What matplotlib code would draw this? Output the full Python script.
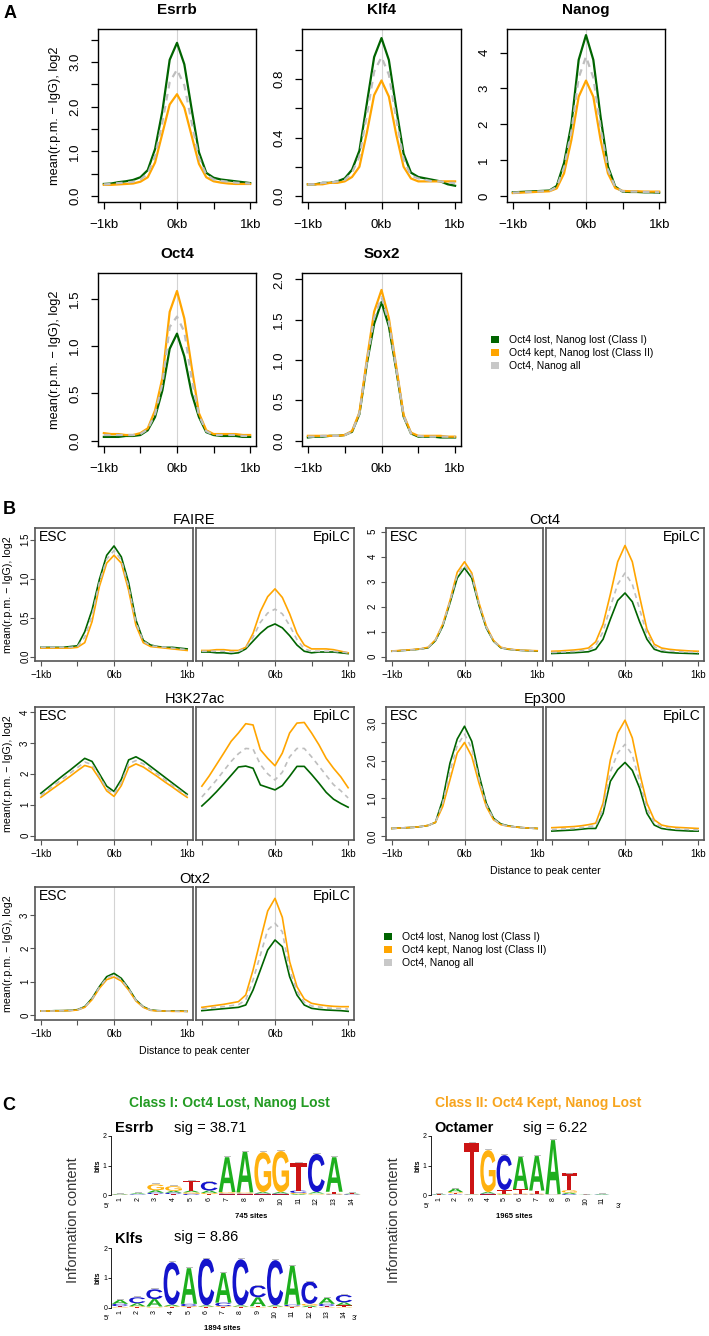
import matplotlib
matplotlib.use("Agg")
import matplotlib.pyplot as plt
import matplotlib.transforms as mtransforms
from matplotlib.patches import Patch, PathPatch
from matplotlib.textpath import TextPath
from matplotlib.font_manager import FontProperties

plt.rcParams["font.family"] = ["Liberation Sans", "DejaVu Sans"]

W, H = 709, 1336

# ---------------- data ----------------
POS_KB = [-1.0, -0.9, -0.8, -0.7, -0.6, -0.5, -0.4, -0.3, -0.2, -0.1, 0.0,
          0.1, 0.2, 0.3, 0.4, 0.5, 0.6, 0.7, 0.8, 0.9, 1.0]

# panel A (green = class I, orange = class II, gray = all)
ESRRB_GREEN = [0.27, 0.28, 0.31, 0.33, 0.36, 0.42, 0.58, 1.05, 1.90, 3.05, 3.43, 2.95, 1.95, 0.98, 0.52, 0.41, 0.37, 0.35, 0.33, 0.31, 0.29]
ESRRB_ORANGE = [0.25, 0.25, 0.26, 0.27, 0.28, 0.32, 0.42, 0.75, 1.40, 2.05, 2.28, 1.98, 1.35, 0.72, 0.42, 0.33, 0.30, 0.28, 0.27, 0.27, 0.27]
ESRRB_GRAY = [0.26, 0.27, 0.29, 0.30, 0.32, 0.37, 0.50, 0.90, 1.65, 2.55, 2.83, 2.48, 1.65, 0.85, 0.48, 0.37, 0.34, 0.32, 0.30, 0.29, 0.28]

KLF4_GREEN = [0.08, 0.08, 0.09, 0.09, 0.10, 0.12, 0.18, 0.31, 0.63, 0.95, 1.08, 0.93, 0.60, 0.29, 0.16, 0.13, 0.12, 0.11, 0.10, 0.08, 0.07]
KLF4_ORANGE = [0.08, 0.08, 0.08, 0.09, 0.09, 0.10, 0.13, 0.20, 0.43, 0.69, 0.79, 0.68, 0.42, 0.20, 0.12, 0.10, 0.10, 0.10, 0.10, 0.10, 0.10]
KLF4_GRAY = [0.08, 0.08, 0.09, 0.09, 0.10, 0.11, 0.16, 0.27, 0.55, 0.85, 0.95, 0.83, 0.53, 0.25, 0.14, 0.12, 0.11, 0.10, 0.10, 0.09, 0.09]

NANOG_GREEN = [0.10, 0.11, 0.12, 0.13, 0.14, 0.15, 0.28, 0.92, 2.00, 3.80, 4.49, 3.80, 2.20, 0.82, 0.26, 0.12, 0.11, 0.11, 0.10, 0.10, 0.09]
NANOG_ORANGE = [0.08, 0.09, 0.10, 0.11, 0.12, 0.13, 0.21, 0.63, 1.56, 2.77, 3.22, 2.77, 1.56, 0.63, 0.22, 0.14, 0.13, 0.13, 0.12, 0.12, 0.12]
NANOG_GRAY = [0.09, 0.10, 0.11, 0.12, 0.13, 0.14, 0.25, 0.80, 1.80, 3.30, 3.89, 3.30, 1.90, 0.74, 0.24, 0.13, 0.12, 0.12, 0.11, 0.11, 0.10]

OCT4A_GREEN = [0.04, 0.04, 0.04, 0.05, 0.05, 0.06, 0.11, 0.25, 0.53, 0.97, 1.13, 0.89, 0.50, 0.25, 0.09, 0.06, 0.05, 0.05, 0.05, 0.04, 0.04]
OCT4A_ORANGE = [0.08, 0.07, 0.07, 0.06, 0.06, 0.08, 0.13, 0.32, 0.66, 1.36, 1.58, 1.29, 0.78, 0.29, 0.11, 0.07, 0.07, 0.07, 0.07, 0.06, 0.06]
OCT4A_GRAY = [0.06, 0.06, 0.06, 0.06, 0.06, 0.07, 0.12, 0.28, 0.60, 1.20, 1.31, 1.15, 0.66, 0.27, 0.10, 0.06, 0.06, 0.06, 0.06, 0.05, 0.05]

SOX2_GREEN = [0.04, 0.05, 0.05, 0.06, 0.06, 0.07, 0.11, 0.33, 0.95, 1.45, 1.72, 1.42, 0.88, 0.30, 0.09, 0.05, 0.05, 0.05, 0.04, 0.04, 0.04]
SOX2_ORANGE = [0.06, 0.06, 0.06, 0.06, 0.06, 0.07, 0.12, 0.35, 1.00, 1.60, 1.87, 1.52, 0.92, 0.32, 0.10, 0.06, 0.06, 0.06, 0.06, 0.05, 0.05]
SOX2_GRAY = [0.05, 0.05, 0.06, 0.06, 0.06, 0.07, 0.11, 0.34, 0.97, 1.52, 1.78, 1.47, 0.90, 0.31, 0.09, 0.06, 0.05, 0.05, 0.05, 0.05, 0.05]

# panel B, ESC and EpiLC
FAIRE_ESC_GREEN = [0.12, 0.12, 0.12, 0.12, 0.13, 0.14, 0.32, 0.60, 0.99, 1.30, 1.42, 1.28, 0.95, 0.47, 0.21, 0.15, 0.13, 0.12, 0.12, 0.11, 0.10]
FAIRE_ESC_ORANGE = [0.11, 0.11, 0.11, 0.11, 0.11, 0.12, 0.18, 0.45, 0.90, 1.20, 1.30, 1.20, 0.85, 0.40, 0.18, 0.13, 0.12, 0.11, 0.10, 0.09, 0.08]
FAIRE_ESC_GRAY = [0.12, 0.12, 0.12, 0.12, 0.12, 0.13, 0.25, 0.53, 0.95, 1.25, 1.36, 1.24, 0.90, 0.44, 0.20, 0.14, 0.13, 0.12, 0.11, 0.10, 0.09]
FAIRE_EPI_GREEN = [0.06, 0.06, 0.05, 0.05, 0.04, 0.05, 0.10, 0.20, 0.30, 0.38, 0.42, 0.37, 0.27, 0.15, 0.07, 0.05, 0.06, 0.06, 0.06, 0.05, 0.04]
FAIRE_EPI_ORANGE = [0.08, 0.08, 0.09, 0.09, 0.08, 0.08, 0.12, 0.30, 0.58, 0.77, 0.87, 0.76, 0.55, 0.30, 0.15, 0.10, 0.10, 0.10, 0.09, 0.07, 0.05]
FAIRE_EPI_GRAY = [0.07, 0.07, 0.07, 0.07, 0.06, 0.07, 0.11, 0.25, 0.44, 0.56, 0.61, 0.55, 0.40, 0.22, 0.10, 0.07, 0.07, 0.07, 0.07, 0.06, 0.05]

OCT4B_ESC_GREEN = [0.22, 0.24, 0.26, 0.28, 0.31, 0.36, 0.64, 1.22, 2.15, 3.15, 3.55, 3.15, 2.05, 1.15, 0.62, 0.36, 0.30, 0.27, 0.25, 0.24, 0.23]
OCT4B_ESC_ORANGE = [0.23, 0.25, 0.27, 0.29, 0.32, 0.38, 0.68, 1.30, 2.25, 3.38, 3.80, 3.35, 2.15, 1.22, 0.65, 0.38, 0.31, 0.28, 0.26, 0.25, 0.24]
OCT4B_ESC_GRAY = [0.22, 0.24, 0.26, 0.28, 0.31, 0.37, 0.66, 1.26, 2.20, 3.27, 3.65, 3.25, 2.10, 1.18, 0.63, 0.37, 0.30, 0.27, 0.25, 0.24, 0.23]
OCT4B_EPI_GREEN = [0.13, 0.14, 0.15, 0.16, 0.18, 0.20, 0.30, 0.70, 1.50, 2.25, 2.55, 2.20, 1.40, 0.70, 0.30, 0.20, 0.17, 0.15, 0.14, 0.13, 0.12]
OCT4B_EPI_ORANGE = [0.22, 0.23, 0.25, 0.27, 0.30, 0.35, 0.60, 1.30, 2.50, 3.80, 4.45, 3.80, 2.40, 1.10, 0.50, 0.35, 0.30, 0.27, 0.25, 0.23, 0.22]
OCT4B_EPI_GRAY = [0.17, 0.18, 0.20, 0.21, 0.24, 0.28, 0.45, 1.00, 2.00, 2.90, 3.35, 2.90, 1.90, 0.90, 0.40, 0.27, 0.23, 0.21, 0.19, 0.18, 0.17]

H3_ESC_GREEN = [1.37, 1.56, 1.75, 1.94, 2.12, 2.31, 2.50, 2.40, 2.00, 1.60, 1.43, 1.82, 2.45, 2.55, 2.42, 2.24, 2.06, 1.88, 1.70, 1.52, 1.34]
H3_ESC_ORANGE = [1.24, 1.41, 1.58, 1.75, 1.92, 2.10, 2.27, 2.20, 1.85, 1.45, 1.27, 1.62, 2.20, 2.32, 2.22, 2.06, 1.90, 1.73, 1.57, 1.40, 1.24]
H3_ESC_GRAY = [1.30, 1.48, 1.66, 1.84, 2.02, 2.20, 2.38, 2.30, 1.92, 1.52, 1.35, 1.72, 2.32, 2.43, 2.32, 2.15, 1.98, 1.80, 1.63, 1.46, 1.29]
H3_EPI_GREEN = [0.96, 1.18, 1.42, 1.68, 1.95, 2.22, 2.25, 2.18, 1.64, 1.56, 1.48, 1.62, 1.92, 2.24, 2.24, 1.98, 1.70, 1.40, 1.18, 1.04, 0.92]
H3_EPI_ORANGE = [1.60, 1.93, 2.30, 2.67, 3.05, 3.32, 3.62, 3.58, 2.78, 2.50, 2.26, 2.67, 3.32, 3.64, 3.66, 3.32, 2.94, 2.50, 2.18, 1.90, 1.55]
H3_EPI_GRAY = [1.25, 1.52, 1.80, 2.10, 2.40, 2.65, 2.82, 2.80, 2.30, 2.00, 1.80, 2.05, 2.55, 2.82, 2.82, 2.55, 2.25, 1.95, 1.65, 1.45, 1.22]

EP300_ESC_GREEN = [0.20, 0.21, 0.22, 0.23, 0.25, 0.28, 0.36, 0.96, 1.93, 2.57, 2.91, 2.51, 1.62, 0.87, 0.47, 0.32, 0.27, 0.24, 0.22, 0.21, 0.20]
EP300_ESC_ORANGE = [0.20, 0.21, 0.22, 0.23, 0.25, 0.28, 0.36, 0.78, 1.49, 2.20, 2.48, 2.11, 1.40, 0.78, 0.43, 0.30, 0.26, 0.24, 0.22, 0.21, 0.20]
EP300_ESC_GRAY = [0.20, 0.21, 0.22, 0.23, 0.25, 0.28, 0.36, 0.87, 1.70, 2.40, 2.70, 2.32, 1.52, 0.83, 0.45, 0.31, 0.26, 0.24, 0.22, 0.21, 0.20]
EP300_EPI_GREEN = [0.13, 0.14, 0.15, 0.16, 0.18, 0.20, 0.20, 0.60, 1.45, 1.76, 1.95, 1.74, 1.27, 0.60, 0.29, 0.20, 0.17, 0.15, 0.14, 0.13, 0.13]
EP300_EPI_ORANGE = [0.22, 0.23, 0.24, 0.25, 0.27, 0.30, 0.34, 0.87, 2.02, 2.73, 3.07, 2.60, 1.67, 0.87, 0.43, 0.29, 0.25, 0.23, 0.22, 0.21, 0.20]
EP300_EPI_GRAY = [0.17, 0.18, 0.19, 0.20, 0.22, 0.25, 0.27, 0.72, 1.70, 2.20, 2.43, 2.15, 1.45, 0.72, 0.35, 0.24, 0.21, 0.19, 0.18, 0.17, 0.16]

OTX2_ESC_GREEN = [0.12, 0.12, 0.13, 0.13, 0.14, 0.16, 0.25, 0.50, 0.85, 1.15, 1.25, 1.10, 0.80, 0.45, 0.25, 0.15, 0.13, 0.12, 0.12, 0.12, 0.11]
OTX2_ESC_ORANGE = [0.12, 0.12, 0.12, 0.13, 0.13, 0.15, 0.23, 0.46, 0.80, 1.06, 1.14, 1.02, 0.75, 0.42, 0.23, 0.14, 0.12, 0.12, 0.11, 0.11, 0.11]
OTX2_ESC_GRAY = [0.12, 0.12, 0.12, 0.13, 0.14, 0.15, 0.24, 0.48, 0.83, 1.11, 1.20, 1.06, 0.78, 0.44, 0.24, 0.15, 0.13, 0.12, 0.12, 0.11, 0.11]
OTX2_EPI_GREEN = [0.13, 0.15, 0.17, 0.19, 0.21, 0.23, 0.30, 0.75, 1.35, 1.95, 2.25, 2.05, 1.15, 0.60, 0.30, 0.20, 0.17, 0.15, 0.14, 0.13, 0.11]
OTX2_EPI_ORANGE = [0.23, 0.26, 0.29, 0.32, 0.36, 0.40, 0.60, 1.35, 2.25, 3.12, 3.50, 2.93, 1.60, 0.85, 0.48, 0.35, 0.31, 0.28, 0.26, 0.25, 0.25]
OTX2_EPI_GRAY = [0.18, 0.20, 0.23, 0.25, 0.28, 0.31, 0.45, 1.05, 1.80, 2.55, 2.75, 2.50, 1.35, 0.72, 0.38, 0.27, 0.24, 0.21, 0.20, 0.19, 0.18]

LEGEND_LABELS = ["Oct4 lost, Nanog lost (Class I)", "Oct4 kept, Nanog lost (Class II)", "Oct4, Nanog all"]

# panel C motif logos: per position, (letter, bits) from bottom to top
ESRRB_LOGO = [
    [("C", 0.01), ("G", 0.01), ("A", 0.02)],
    [("T", 0.01), ("C", 0.02), ("A", 0.03)],
    [("T", 0.03), ("C", 0.05), ("A", 0.08), ("G", 0.20)],
    [("T", 0.03), ("C", 0.05), ("A", 0.06), ("G", 0.16)],
    [("C", 0.04), ("G", 0.05), ("A", 0.06), ("T", 0.34)],
    [("T", 0.03), ("G", 0.04), ("A", 0.08), ("C", 0.30)],
    [("T", 0.02), ("C", 0.03), ("G", 0.05), ("A", 1.18)],
    [("T", 0.02), ("C", 0.03), ("G", 0.04), ("A", 1.38)],
    [("T", 0.02), ("C", 0.03), ("A", 0.05), ("G", 1.35)],
    [("T", 0.02), ("C", 0.03), ("A", 0.05), ("G", 1.39)],
    [("A", 0.03), ("G", 0.04), ("C", 0.08), ("T", 0.95)],
    [("G", 0.02), ("T", 0.03), ("A", 0.05), ("C", 1.29)],
    [("C", 0.02), ("G", 0.03), ("T", 0.06), ("A", 1.17)],
    [("G", 0.01), ("C", 0.02), ("A", 0.02), ("T", 0.02)],
]
KLFS_LOGO = [
    [("G", 0.02), ("T", 0.03), ("C", 0.08), ("A", 0.13)],
    [("T", 0.02), ("G", 0.03), ("A", 0.10), ("C", 0.20)],
    [("G", 0.02), ("T", 0.02), ("A", 0.25), ("C", 0.33)],
    [("T", 0.02), ("G", 0.03), ("A", 0.05), ("C", 1.43)],
    [("T", 0.02), ("G", 0.03), ("C", 0.08), ("A", 1.20)],
    [("T", 0.02), ("G", 0.02), ("A", 0.04), ("C", 1.58)],
    [("T", 0.02), ("G", 0.03), ("C", 0.12), ("A", 1.01)],
    [("T", 0.02), ("G", 0.02), ("A", 0.04), ("C", 1.55)],
    [("G", 0.02), ("T", 0.03), ("A", 0.30), ("C", 0.40)],
    [("T", 0.02), ("G", 0.02), ("A", 0.04), ("C", 1.52)],
    [("T", 0.02), ("G", 0.03), ("C", 0.05), ("A", 1.32)],
    [("T", 0.02), ("A", 0.05), ("G", 0.06), ("C", 0.75)],
    [("G", 0.02), ("T", 0.03), ("C", 0.08), ("A", 0.20)],
    [("G", 0.02), ("T", 0.06), ("A", 0.10), ("C", 0.25)],
]
OCTAMER_LOGO = [
    [("C", 0.01), ("T", 0.01), ("A", 0.02)],
    [("C", 0.02), ("T", 0.04), ("G", 0.04), ("A", 0.12)],
    [("A", 0.01), ("C", 0.01), ("G", 0.01), ("T", 1.72)],
    [("T", 0.02), ("C", 0.03), ("A", 0.05), ("G", 1.42)],
    [("A", 0.02), ("G", 0.03), ("T", 0.12), ("C", 1.18)],
    [("C", 0.02), ("G", 0.03), ("T", 0.15), ("A", 1.10)],
    [("C", 0.02), ("G", 0.03), ("T", 0.10), ("A", 1.17)],
    [("C", 0.01), ("G", 0.01), ("T", 0.01), ("A", 1.83)],
    [("C", 0.03), ("A", 0.05), ("G", 0.08), ("T", 0.57)],
    [("A", 0.01), ("T", 0.01)],
    [("C", 0.01), ("A", 0.02), ("T", 0.02)],
]

# ---------------- styles ----------------
GREEN = "#006400"
ORANGE = "#FFA500"
GRAY = "#BEBEBE"
LEG_GRAY = "#C8C8C8"
VLINE = "#D3D3D3"
B_FRAME = "#555555"
LETTER_COLORS = {"A": "#1DAF1D", "C": "#1414CC", "G": "#FFB10F", "T": "#CC1414"}
YLABEL = "mean(r.p.m. \u2212 IgG), log2"

fig = plt.figure(figsize=(W / 100, H / 100), dpi=100)


def rect(x0, y0, x1, y1):
    return [x0 / W, 1 - y1 / H, (x1 - x0) / W, (y1 - y0) / H]


def ftext(x, y, s, **kw):
    kw.setdefault("ha", "center")
    kw.setdefault("va", "center")
    fig.text(x / W, 1 - y / H, s, **kw)


def draw_profiles(ax, green, orange, gray, lw):
    ax.axvline(0, color=VLINE, lw=0.8, zorder=0)
    ax.plot(POS_KB, green, color=GREEN, lw=lw)
    ax.plot(POS_KB, orange, color=ORANGE, lw=lw)
    ax.plot(POS_KB, gray, color=GRAY, lw=lw, ls=(0, (3, 2.5)))
    ax.set_xlim(-1.08, 1.08)


def rotate_yticklabels(ax):
    for lab in ax.get_yticklabels():
        lab.set_rotation(90)
        lab.set_va("center")


# ---------------- panel A ----------------
panel_a = [
    ("Esrrb", ESRRB_GREEN, ESRRB_ORANGE, ESRRB_GRAY, (98, 29, 256, 202), (-0.134, 3.74),
     [0, 0.5, 1, 1.5, 2, 2.5, 3, 3.5], ["0.0", "", "1.0", "", "2.0", "", "3.0", ""]),
    ("Klf4", KLF4_GREEN, KLF4_ORANGE, KLF4_GRAY, (302, 29, 461, 202), (-0.041, 1.142),
     [0, 0.2, 0.4, 0.6, 0.8, 1.0], ["0.0", "", "0.4", "", "0.8", ""]),
    ("Nanog", NANOG_GREEN, NANOG_ORANGE, NANOG_GRAY, (507, 29, 665, 202), (-0.17, 4.66),
     [0, 1, 2, 3, 4], ["0", "1", "2", "3", "4"]),
    ("Oct4", OCT4A_GREEN, OCT4A_ORANGE, OCT4A_GRAY, (98, 273, 256, 446), (-0.056, 1.77),
     [0, 0.5, 1, 1.5], ["0.0", "0.5", "1.0", "1.5"]),
    ("Sox2", SOX2_GREEN, SOX2_ORANGE, SOX2_GRAY, (302, 273, 461, 446), (-0.066, 2.08),
     [0, 0.5, 1, 1.5, 2], ["0.0", "0.5", "1.0", "1.5", "2.0"]),
]

for name, g, o, gr, box, ylim, yt, ytl in panel_a:
    ax = fig.add_axes(rect(*box))
    draw_profiles(ax, g, o, gr, lw=1.6)
    ax.set_ylim(*ylim)
    ax.set_xticks([-1, -0.5, 0, 0.5, 1], ["\u22121kb", "", "0kb", "", "1kb"])
    ax.set_yticks(yt, ytl)
    ax.tick_params(length=5, width=0.9, labelsize=9.5, pad=7)
    rotate_yticklabels(ax)
    for sp in ax.spines.values():
        sp.set_linewidth(1.0)
    ftext((box[0] + box[2]) / 2, box[1] - 19, name, fontsize=11, fontweight="bold")

ftext(55, 115.5, YLABEL, rotation=90, fontsize=9.2)
ftext(55, 359.5, YLABEL, rotation=90, fontsize=9.2)
ftext(10, 13, "A", fontsize=13, fontweight="bold")

handles = [Patch(facecolor=c, edgecolor="none") for c in (GREEN, ORANGE, LEG_GRAY)]
for lx, ly in ((491, 335), (384, 932)):
    fig.legend(handles, LEGEND_LABELS, loc="upper left", bbox_to_anchor=(lx / W, 1 - ly / H),
               frameon=False, fontsize=7.5, handlelength=0.75, handleheight=0.75,
               handletextpad=1.0, labelspacing=0.3, borderpad=0, borderaxespad=0)

# ---------------- panel B ----------------
panel_b = [
    ("FAIRE", (FAIRE_ESC_GREEN, FAIRE_ESC_ORANGE, FAIRE_ESC_GRAY),
     (FAIRE_EPI_GREEN, FAIRE_EPI_ORANGE, FAIRE_EPI_GRAY), "left", (528, 661), (-0.055, 1.65),
     [0, 0.5, 1, 1.5], ["0.0", "0.5", "1.0", "1.5"], False),
    ("Oct4", (OCT4B_ESC_GREEN, OCT4B_ESC_ORANGE, OCT4B_ESC_GRAY),
     (OCT4B_EPI_GREEN, OCT4B_EPI_ORANGE, OCT4B_EPI_GRAY), "right", (528, 661), (-0.17, 5.15),
     [0, 1, 2, 3, 4, 5], ["0", "1", "2", "3", "4", "5"], False),
    ("H3K27ac", (H3_ESC_GREEN, H3_ESC_ORANGE, H3_ESC_GRAY),
     (H3_EPI_GREEN, H3_EPI_ORANGE, H3_EPI_GRAY), "left", (707, 840), (-0.14, 4.16),
     [0, 1, 2, 3, 4], ["0", "1", "2", "3", "4"], False),
    ("Ep300", (EP300_ESC_GREEN, EP300_ESC_ORANGE, EP300_ESC_GRAY),
     (EP300_EPI_GREEN, EP300_EPI_ORANGE, EP300_EPI_GRAY), "right", (707, 840), (-0.106, 3.42),
     [0, 0.5, 1, 1.5, 2, 2.5, 3], ["0.0", "", "1.0", "", "2.0", "", "3.0"], True),
    ("Otx2", (OTX2_ESC_GREEN, OTX2_ESC_ORANGE, OTX2_ESC_GRAY),
     (OTX2_EPI_GREEN, OTX2_EPI_ORANGE, OTX2_EPI_GRAY), "left", (887, 1020), (-0.15, 3.84),
     [0, 1, 2, 3], ["0", "1", "2", "3"], True),
]
COLS = {"left": ((35, 193), (196, 354)), "right": ((386, 543), (546, 704))}

for name, esc, epi, col, (y0, y1), ylim, yt, ytl, xlab in panel_b:
    (ex0, ex1), (px0, px1) = COLS[col]
    for (x0, x1), series, tag in (((ex0, ex1), esc, "ESC"), ((px0, px1), epi, "EpiLC")):
        ax = fig.add_axes(rect(x0, y0, x1, y1))
        draw_profiles(ax, *series, lw=1.2)
        ax.set_ylim(*ylim)
        if tag == "ESC":
            ax.set_xticks([-1, -0.5, 0, 0.5, 1], ["\u22121kb", "", "0kb", "", "1kb"])
            ax.set_yticks(yt, ytl)
            ax.tick_params(axis="y", length=3.5, width=0.8, labelsize=7,
                           pad=0 if col == "left" else 2.5, color=B_FRAME)
            rotate_yticklabels(ax)
            ax.text(0.027, 0.93, "ESC", transform=ax.transAxes, ha="left", va="center", fontsize=10)
        else:
            ax.set_xticks([-1, -0.5, 0, 0.5, 1], ["", "", "0kb", "", "1kb"])
            ax.set_yticks([])
            ax.text(0.979, 0.93, "EpiLC", transform=ax.transAxes, ha="right", va="center", fontsize=10)
        ax.tick_params(axis="x", length=3.5, width=0.8, labelsize=7, pad=3, color=B_FRAME)
        for sp in ax.spines.values():
            sp.set_color(B_FRAME)
            sp.set_linewidth(1.2)
    ftext((ex0 + px1) / 2, y0 - 8, name, fontsize=10.5)
    if xlab:
        ftext((ex0 + px1) / 2, y1 + 31, "Distance to peak center", fontsize=7.6)
    if col == "left":
        ftext(8, (y0 + y1) / 2, YLABEL, rotation=90, fontsize=7.7)

ftext(9, 510, "B", fontsize=13, fontweight="bold")

# ---------------- panel C ----------------
LOGO_FP = FontProperties(family="Liberation Sans", weight="bold")


def draw_letter(ax, ch, x, y0, h):
    tp = TextPath((0, 0), ch, size=1, prop=LOGO_FP)
    bb = tp.get_extents()
    tr = (mtransforms.Affine2D().translate(-bb.x0, -bb.y0)
          .scale(0.94 / bb.width, h / bb.height).translate(x - 0.47, y0))
    ax.add_patch(PathPatch(tr.transform_path(tp), facecolor=LETTER_COLORS[ch],
                           edgecolor="none", clip_on=False))


def draw_logo(box, stacks):
    ax = fig.add_axes(rect(*box))
    n = len(stacks)
    for i, stack in enumerate(stacks, start=1):
        top = 0
        for ch, h in stack:
            draw_letter(ax, ch, i, top, h)
            top += h
        ax.plot([i - 0.18, i + 0.18], [top + 0.03, top + 0.03], color="#B0B0B0", lw=0.6)
    ax.set_xlim(0.5, n + 0.5)
    ax.set_ylim(0, 2)
    for s in ("top", "right", "bottom"):
        ax.spines[s].set_visible(False)
    ax.spines["left"].set_linewidth(0.6)
    ax.set_yticks([0, 1, 2], ["0", "1", "2"])
    ax.set_xticks(range(1, n + 1), [str(i) for i in range(1, n + 1)], rotation=90)
    ax.tick_params(axis="y", length=2, width=0.6, labelsize=5, pad=1)
    ax.tick_params(axis="x", length=0, labelsize=5, pad=1.5)
    ax.set_ylabel("bits", fontsize=5, fontweight="bold", labelpad=1)
    return ax


draw_logo((111, 1136, 361, 1195), ESRRB_LOGO)
draw_logo((111.4, 1248.3, 352.6, 1307.7), KLFS_LOGO)
draw_logo((431, 1136, 610, 1195), OCTAMER_LOGO)

ftext(9, 1105, "C", fontsize=13, fontweight="bold")
ftext(229.5, 1103, "Class I: Oct4 Lost, Nanog Lost", color="#239B23", fontsize=10, fontweight="bold")
ftext(538.6, 1103, "Class II: Oct4 Kept, Nanog Lost", color="#F7A41D", fontsize=10, fontweight="bold")

ftext(115.4, 1128, "Esrrb", ha="left", fontsize=10.5, fontweight="bold")
ftext(174, 1128, "sig = 38.71", ha="left", fontsize=10.5)
ftext(115.4, 1239, "Klfs", ha="left", fontsize=10.5, fontweight="bold")
ftext(174, 1237, "sig = 8.86", ha="left", fontsize=10.5)
ftext(434, 1128, "Octamer", ha="left", fontsize=10.5, fontweight="bold")
ftext(522.6, 1128, "sig = 6.22", ha="left", fontsize=10.5)

for x, y, s in ((107, 1206, "5\u2032"), (107, 1318, "5\u2032"), (354, 1318, "3\u2032"),
                (427, 1206, "5\u2032"), (618, 1206, "3\u2032")):
    ftext(x, y, s, fontsize=5.5)

ftext(251, 1217, "745 sites", fontsize=5.5, fontweight="bold")
ftext(222, 1329, "1894 sites", fontsize=5.5, fontweight="bold")
ftext(514, 1217, "1965 sites", fontsize=5.5, fontweight="bold")

ftext(73, 1220, "Information content", rotation=90, fontsize=10.5, color="#333333")
ftext(394, 1220, "Information content", rotation=90, fontsize=10.5, color="#333333")

fig.savefig("out.png", dpi=100)
